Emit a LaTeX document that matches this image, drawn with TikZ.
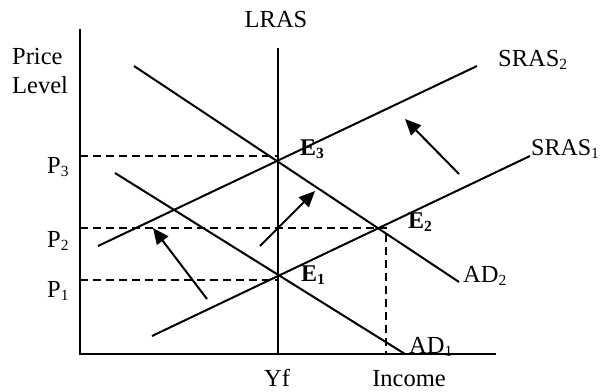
\documentclass[tikz,border=0pt]{standalone}
\usepackage{fontspec}
\setmainfont{Liberation Serif}
\usetikzlibrary{arrows.meta}
\newcommand{\lsub}[1]{\raisebox{-3pt}{\fontsize{15.5}{15.5}\selectfont #1}}
\begin{document}
\begin{tikzpicture}[x=1pt,y=-1pt,
  curve/.style={line width=2pt},
  axisline/.style={line width=2.4pt},
  guide/.style={line width=1.7pt, dash pattern=on 8pt off 5pt},
  shiftarrow/.style={line width=2pt,-{Triangle[length=16pt,width=14pt]}},
  lbl/.style={font=\fontsize{24.5}{29}\selectfont, inner sep=0pt, anchor=base west},
  ptlbl/.style={font=\bfseries\fontsize{24}{29}\selectfont, inner sep=0pt, anchor=base west}]
\useasboundingbox (0,0) rectangle (601,391);
% axes
\coordinate (ytop) at (80,29);
\coordinate (origin) at (80,354);
\coordinate (xend) at (496,354);
\draw[axisline] (ytop) -- (origin) -- (xend);
% LRAS
\coordinate (lrastop) at (278,48);
\coordinate (lrasbot) at (278,354);
\draw[curve] (lrastop) -- (lrasbot);
% AD curves
\coordinate (adtwoA) at (134,66);
\coordinate (adtwoB) at (459,282);
\draw[curve] (adtwoA) -- (adtwoB);
\coordinate (adoneA) at (115,173);
\coordinate (adoneB) at (405,354);
\draw[curve] (adoneA) -- (adoneB);
% SRAS curves
\coordinate (sraoneA) at (152,336);
\coordinate (sraoneB) at (530,156);
\draw[curve] (sraoneA) -- (sraoneB);
\coordinate (sratwoA) at (98,246);
\coordinate (sratwoB) at (477,66);
\draw[curve] (sratwoA) -- (sratwoB);
% guides
\coordinate (pthreeL) at (80,156);
\coordinate (pthreeR) at (278,156);
\draw[guide] (pthreeL) -- (pthreeR);
\coordinate (ptwoL) at (80,228);
\coordinate (ptwoR) at (386,228);
\coordinate (ptwoD) at (386,354);
\draw[guide] (ptwoL) -- (ptwoR) -- (ptwoD);
\coordinate (poneL) at (80,280);
\coordinate (poneR) at (278,280);
\draw[guide] (poneL) -- (poneR);
% shift arrows
\coordinate (aoneS) at (207,299);
\coordinate (aoneE) at (153,228);
\draw[shiftarrow] (aoneS) -- (aoneE);
\coordinate (atwoS) at (260,246);
\coordinate (atwoE) at (315,191);
\draw[shiftarrow] (atwoS) -- (atwoE);
\coordinate (athreeS) at (459,174);
\coordinate (athreeE) at (405,119);
\draw[shiftarrow] (athreeS) -- (athreeE);
% labels
\node[lbl, anchor=base] (lras) at (276,27) {LRAS};
\node[lbl, align=left] (price) at (12,93) {Price\\Level};
\node[lbl] (srastwo) at (498,66) {SRAS\lsub{2}};
\node[lbl, font=\fontsize{24}{29}\selectfont] (sraone) at (531,155) {SRAS\lsub{1}};
\node[ptlbl] (ethree) at (300,155) {E\lsub{3}};
\node[ptlbl] (etwo) at (408,228) {E\lsub{2}};
\node[ptlbl] (eone) at (301,281) {E\lsub{1}};
\node[lbl] (adtwo) at (463,282) {AD\lsub{2}};
\node[lbl] (adone) at (409,353) {AD\lsub{1}};
\node[lbl] (pthree) at (47,173) {P\lsub{3}};
\node[lbl] (ptwo) at (47,247) {P\lsub{2}};
\node[lbl] (pone) at (47,297) {P\lsub{1}};
\node[lbl, anchor=base] (yf) at (277,386) {Yf};
\node[lbl, anchor=base] (income) at (409,386) {Income};
\end{tikzpicture}
\end{document}
